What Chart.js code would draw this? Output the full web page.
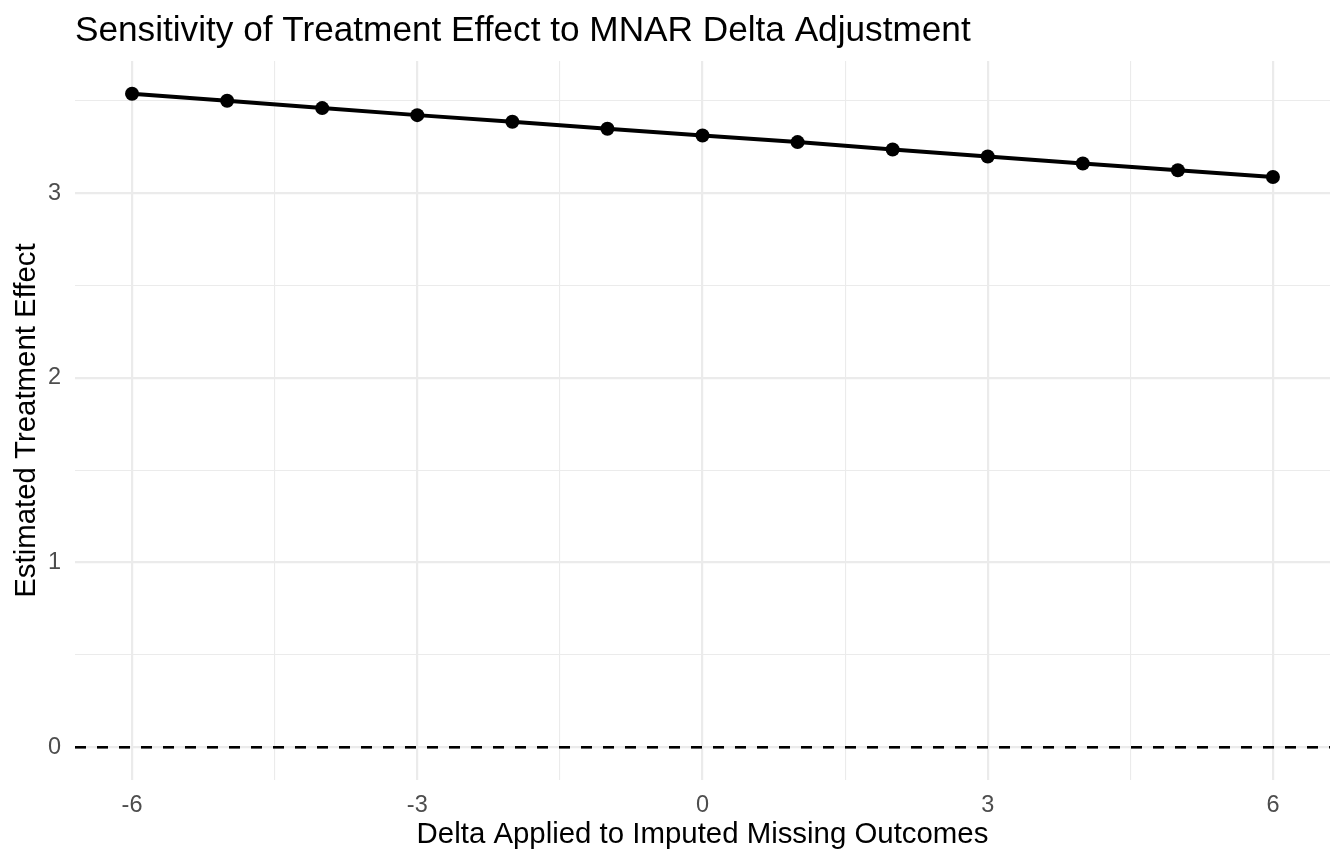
<!DOCTYPE html>
<html>
<head>
<meta charset="utf-8">
<script src="https://cdn.jsdelivr.net/npm/chart.js@4.4.1/dist/chart.umd.min.js"></script>
<style>
  html, body { margin: 0; padding: 0; background: #ffffff; }
  #wrap { width: 1344px; height: 864px; position: relative; }
</style>
</head>
<body>
<div id="wrap"><canvas id="c" width="1344" height="864"></canvas></div>
<script>
// ---- data ----
const deltas = [-6, -5, -4, -3, -2, -1, 0, 1, 2, 3, 4, 5, 6];
const effects = [3.538, 3.500, 3.460, 3.422, 3.386, 3.348, 3.312, 3.276, 3.236, 3.198, 3.160, 3.124, 3.087];
const xTickValues = [-6, -4.5, -3, -1.5, 0, 1.5, 3, 4.5, 6];
const xMajorTicks = [-6, -3, 0, 3, 6];
const yTickValues = [0, 0.5, 1, 1.5, 2, 2.5, 3, 3.5];
const yMajorTicks = [0, 1, 2, 3];
const referenceY = 0;
const titleText = "Sensitivity of Treatment Effect to MNAR Delta Adjustment";
const xTitleText = "Delta Applied to Imputed Missing Outcomes";
const yTitleText = "Estimated Treatment Effect";

// ---- layout / style ----
const FONT = "'Liberation Sans', Arial, Helvetica, sans-serif";
const xRange = [-6.6, 6.6];
const yRange = [-0.177, 3.715];
const isMajor = (arr, v) => arr.some(m => Math.abs(m - v) < 1e-9);

const textPlugin = {
  id: 'texts',
  beforeDatasetsDraw(chart) {
    const { ctx, chartArea, scales } = chart;
    const y0 = scales.y.getPixelForValue(referenceY);
    ctx.save();
    ctx.strokeStyle = '#000000';
    ctx.lineWidth = 2.6;
    ctx.setLineDash([11, 11]);
    ctx.beginPath();
    ctx.moveTo(chartArea.left, y0);
    ctx.lineTo(chartArea.right, y0);
    ctx.stroke();
    ctx.restore();
  },
  afterDraw(chart) {
    const { ctx, chartArea } = chart;
    ctx.save();
    ctx.fillStyle = '#000000';
    ctx.textBaseline = 'alphabetic';
    ctx.font = `35.2px ${FONT}`;
    ctx.textAlign = 'left';
    ctx.fillText(titleText, chartArea.left, 41);
    ctx.font = `29.4px ${FONT}`;
    ctx.textAlign = 'center';
    ctx.fillText(xTitleText, (chartArea.left + chartArea.right) / 2, 843);
    ctx.translate(35, (chartArea.top + chartArea.bottom) / 2);
    ctx.rotate(-Math.PI / 2);
    ctx.fillText(yTitleText, 0, 0);
    ctx.restore();
  }
};

new Chart(document.getElementById('c'), {
  type: 'line',
  data: {
    datasets: [{
      data: deltas.map((d, i) => ({ x: d, y: effects[i] })),
      borderColor: '#000000',
      backgroundColor: '#000000',
      borderWidth: 4,
      pointRadius: 7,
      pointHoverRadius: 7,
      pointBorderWidth: 0,
      tension: 0,
      fill: false
    }]
  },
  options: {
    responsive: false,
    devicePixelRatio: 1,
    animation: false,
    events: [],
    layout: { padding: { left: 0, right: 14, top: 61, bottom: 0 } },
    plugins: { legend: { display: false }, tooltip: { enabled: false }, title: { display: false } },
    scales: {
      x: {
        type: 'linear',
        min: xRange[0], max: xRange[1],
        afterBuildTicks: s => { s.ticks = xTickValues.map(v => ({ value: v })); },
        afterFit: s => { s.height = 84; },
        border: { display: false },
        grid: {
          drawTicks: false,
          tickLength: 0,
          color: '#ebebeb',
          lineWidth: c => isMajor(xMajorTicks, c.tick.value) ? 2.2 : 1.1
        },
        ticks: {
          autoSkip: false,
          maxRotation: 0,
          padding: 11,
          color: '#4d4d4d',
          font: { family: FONT, size: 23.5 },
          callback: v => isMajor(xMajorTicks, v) ? String(v) : ''
        }
      },
      y: {
        type: 'linear',
        min: yRange[0], max: yRange[1],
        afterBuildTicks: s => { s.ticks = yTickValues.map(v => ({ value: v })); },
        afterFit: s => { s.width = 75; },
        border: { display: false },
        grid: {
          drawTicks: false,
          tickLength: 0,
          color: '#ebebeb',
          lineWidth: c => isMajor(yMajorTicks, c.tick.value) ? 2.2 : 1.1
        },
        ticks: {
          autoSkip: false,
          padding: 14,
          color: '#4d4d4d',
          font: { family: FONT, size: 23.5 },
          callback: v => isMajor(yMajorTicks, v) ? String(v) : ''
        }
      }
    }
  },
  plugins: [textPlugin]
});
</script>
</body>
</html>
